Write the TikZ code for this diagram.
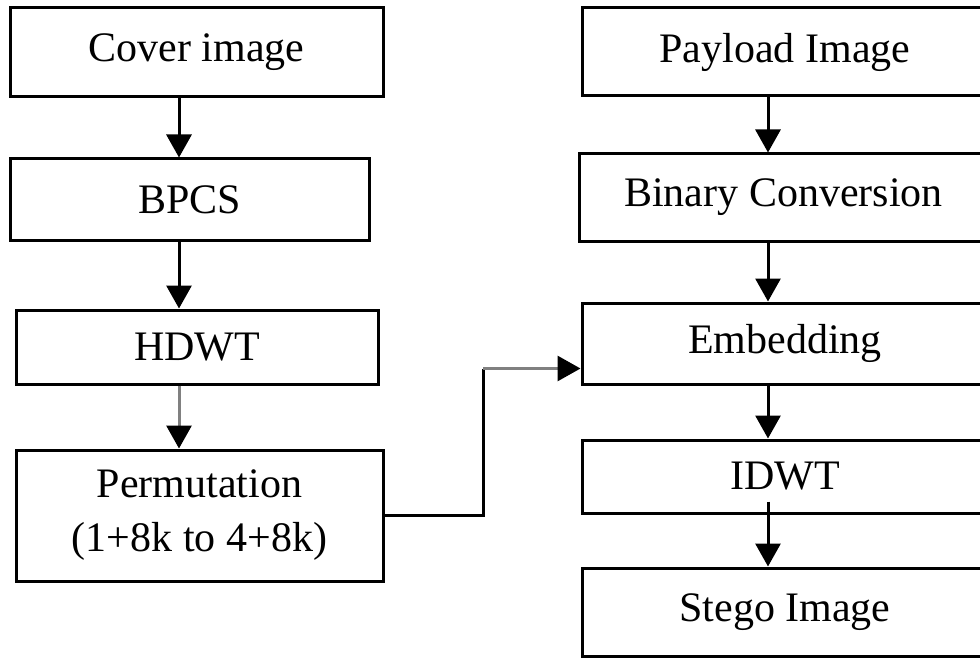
\documentclass[tikz,border=0pt]{standalone}
\usepackage{fontspec}
\setmainfont{Liberation Serif}
\usetikzlibrary{arrows.meta}
\usetikzlibrary{calc}

\tikzset{
  stage/.style={draw, line width=1.5pt, inner sep=0pt, align=center,
    font=\fontsize{21}{27}\selectfont},
  flow/.style={line width=1.5pt, -{Triangle[width=12.5pt,length=11.5pt,color=black]}},
  paleflow/.style={flow, draw=gray},
}

\begin{document}
\begin{tikzpicture}[x=0.5pt,y=-0.5pt]
\useasboundingbox (0,0) rectangle (980,658);
\clip (0,0) rectangle (980,658);

% left column
\node[stage, minimum width=186.5pt, minimum height=44.5pt] (cover) at (196.5,52.5) {Cover image};
\node[stage, minimum width=179.5pt, minimum height=40.5pt] (bpcs) at (189.5,199.5) {BPCS};
\node[stage, minimum width=181pt, minimum height=37pt] (hdwt) at (197,347) {HDWT};
\node[stage, minimum width=183.5pt, minimum height=65.5pt] (perm) at (199.5,515.5) {Permutation\\(1+8k to 4+8k)};

% right column (runs past the edge)
\node[stage, minimum width=203pt, minimum height=44pt] (payload) at (785,52) {Payload Image};
\node[stage, minimum width=204.5pt, minimum height=43.5pt] (binary) at (783.5,197.5) {Binary Conversion};
\node[stage, minimum width=203pt, minimum height=40.5pt] (embed) at (785,343.5) {Embedding};
\node[stage, minimum width=203pt, minimum height=36.5pt] (idwt) at (785,476.5) {IDWT};
\node[stage, minimum width=203pt, minimum height=44pt] (stego) at (785,612) {Stego Image};

\coordinate (ax) at (179,0);
\coordinate (bx) at (768,0);
\coordinate (bend) at (483,0);
\coordinate (entry) at ([yshift=8.5pt]embed.south west);

\draw[flow] (cover.south -| ax) -- (bpcs.north -| ax);
\draw[flow] (bpcs.south -| ax) -- (hdwt.north -| ax);
\draw[paleflow] (hdwt.south -| ax) -- (perm.north -| ax);

\draw[line width=1.5pt] (perm.east) -| (bend |- entry);
\draw[paleflow] (bend |- entry) -- (entry);

\draw[flow] (payload.south -| bx) -- (binary.north -| bx);
\draw[flow] (binary.south -| bx) -- (embed.north -| bx);
\draw[flow] (embed.south -| bx) -- (idwt.north -| bx);
\draw[flow] ([yshift=6.5pt]idwt.south -| bx) -- (stego.north -| bx);
\end{tikzpicture}
\end{document}
